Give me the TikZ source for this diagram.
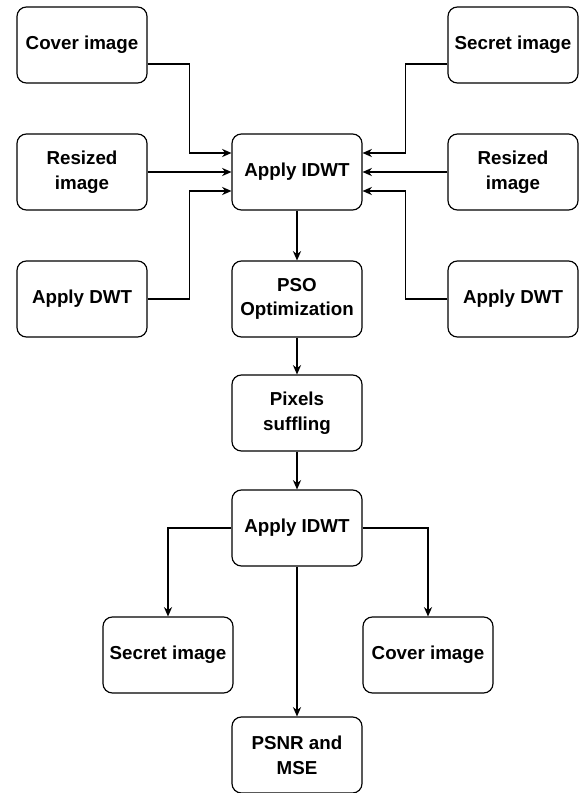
\documentclass[tikz,border=0pt]{standalone}
\usepackage{fontspec}
\setmainfont{Liberation Sans}
\usetikzlibrary{arrows.meta,positioning}

\begin{document}
\begin{tikzpicture}[x=0.03cm,y=-0.03cm,
    blk/.style={draw, line width=1pt, rounded corners=8pt, minimum width=3.9cm, minimum height=2.28cm, align=center, inner sep=2pt, font=\fontsize{16}{21}\selectfont\bfseries},
    arr/.style={-{Stealth[length=8pt,width=7pt]}, line width=0.9pt}]
    \useasboundingbox (0,0) rectangle (581,793);
    \node[blk] (covin) at (82,45) {Cover image};
    \node[blk] (reszl) at (82,172) {Resized\\image};
    \node[blk] (dwtl) at (82,299) {Apply DWT};
    \node[blk] (secin) at (513,45) {Secret image};
    \node[blk] (reszr) at (513,172) {Resized\\image};
    \node[blk] (dwtr) at (513,299) {Apply DWT};
    \node[blk] (idwta) at (297,172) {Apply IDWT};
    \node[blk] (pso) at (297,299) {PSO\\Optimization};
    \node[blk] (shuf) at (297,413) {Pixels\\suffling};
    \node[blk] (idwtb) at (297,528) {Apply IDWT};
    \node[blk] (secout) at (168,655) {Secret image};
    \node[blk] (covout) at (428,655) {Cover image};
    \node[blk] (psnr) at (297,755) {PSNR and\\MSE};
    \draw[arr] ([yshift=-0.57cm]covin.east) -- ++(42,0) |- ([yshift=0.57cm]idwta.west);
    \draw[arr] (reszl) -- (idwta);
    \draw[arr] (dwtl.east) -- ++(42,0) |- ([yshift=-0.57cm]idwta.west);
    \draw[arr] ([yshift=-0.57cm]secin.west) -- ++(-42,0) |- ([yshift=0.57cm]idwta.east);
    \draw[arr] (reszr) -- (idwta);
    \draw[arr] (dwtr.west) -- ++(-42,0) |- ([yshift=-0.57cm]idwta.east);
    \draw[arr] (idwta) -- (pso);
    \draw[arr] (pso) -- (shuf);
    \draw[arr] (shuf) -- (idwtb);
    \draw[arr] (idwtb.west) -| (secout.north);
    \draw[arr] (idwtb.east) -| (covout.north);
    \draw[arr] (idwtb) -- (psnr);
\end{tikzpicture}
\end{document}
